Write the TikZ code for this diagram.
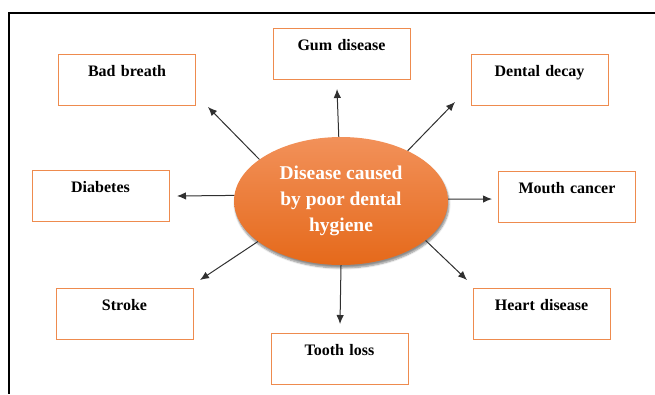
\documentclass[tikz,border=0pt]{standalone}
\usepackage{fontspec}
\setmainfont{Liberation Serif}
\usetikzlibrary{shapes.geometric,arrows.meta,shadows.blur}
\definecolor{boxorange}{HTML}{EE8B4E}
\definecolor{topor}{HTML}{F2915A}
\definecolor{botor}{HTML}{E5691A}
\definecolor{arrowgray}{HTML}{303030}
\tikzset{
  disbox/.style={draw=boxorange, line width=0.9pt, rectangle, anchor=north,
    minimum width=137pt, inner sep=0pt, text width=137pt, align=center,
    text height=22pt, text depth=29pt, font=\fontsize{16}{18}\selectfont\bfseries},
  hub/.style={ellipse, minimum width=214pt, minimum height=128pt, inner sep=0pt,
    top color=topor, bottom color=botor, draw=none, text=white, align=center,
    font=\fontsize{19.5}{26}\selectfont\bfseries,
    blur shadow={shadow xshift=1pt, shadow yshift=-3pt, shadow blur steps=6, shadow opacity=45}},
  arr/.style={draw=arrowgray, line width=1pt, -{Latex[length=9pt,width=7.5pt]}}
}
\begin{document}
\begin{tikzpicture}[x=1pt,y=-1pt]
\useasboundingbox (0,0) rectangle (655,394);
\draw[line width=1.1pt] (655,13) -- (9,13) -- (9,394);
\node[hub] (c) at (341,201) {Disease caused\\by poor dental\\hygiene};
\node[disbox] (bad) at (127,54) {Bad breath};
\node[disbox] (gum) at (341.5,28) {Gum disease};
\node[disbox] (decay) at (539.5,54) {Dental decay};
\node[disbox] (diab) at (100.5,170) {Diabetes};
\node[disbox] (mouth) at (567,171) {Mouth cancer};
\node[disbox] (stroke) at (124.5,288) {Stroke};
\node[disbox] (heart) at (541.5,288) {Heart disease};
\node[disbox] (tooth) at (339.5,333) {Tooth loss};
\coordinate (tgum) at (337,89);
\coordinate (tbad) at (208,107);
\coordinate (tdecay) at (455,102);
\coordinate (tdiab) at (177,196);
\coordinate (tmouth) at (492,199);
\coordinate (tstroke) at (200,280);
\coordinate (theart) at (467,280);
\coordinate (ttooth) at (340,324);
\draw[arr] (c.92) -- (tgum);
\draw[arr] (c.153) -- (tbad);
\draw[arr] (c.37) -- (tdecay);
\draw[arr] (c.177) -- (tdiab);
\draw[arr] (c.1) -- (tmouth);
\draw[arr] (c.206) -- (tstroke);
\draw[arr] (c.335) -- (theart);
\draw[arr] (c.270) -- (ttooth);
\end{tikzpicture}
\end{document}
